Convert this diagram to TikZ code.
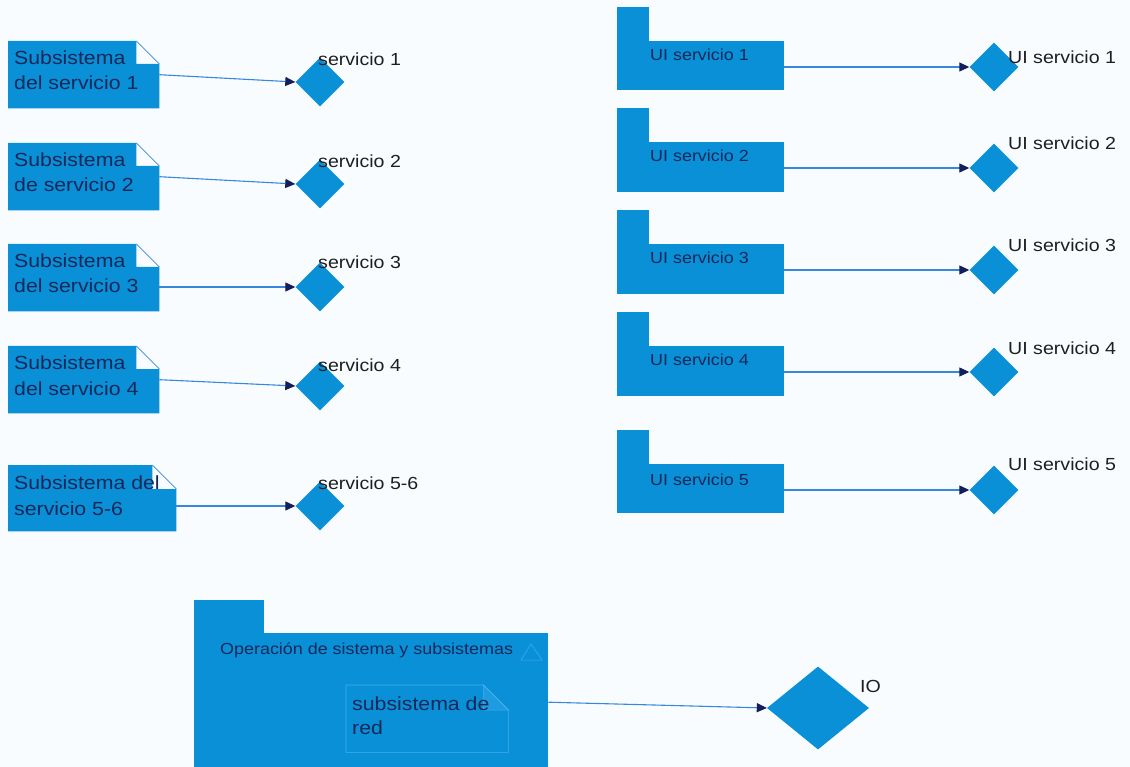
\documentclass[tikz,border=0pt]{standalone}
\usepackage{fontspec}
\setmainfont{Liberation Sans}[FakeStretch=1.12]
\usetikzlibrary{shapes.geometric,arrows.meta}

\definecolor{bg}{RGB}{249,252,255}
\definecolor{umlblue}{RGB}{10,144,214}
\definecolor{flapblue}{RGB}{30,155,225}
\definecolor{edgeblue}{RGB}{55,135,220}
\definecolor{tipnavy}{RGB}{20,30,90}
\definecolor{inktext}{RGB}{20,40,90}
\definecolor{labeltext}{RGB}{30,30,30}
\definecolor{foldline}{RGB}{70,175,240}

\tikzset{
  lbl/.style={anchor=base west, inner sep=0, text=labeltext, font=\fontsize{17.5}{20}\selectfont},
  notetxt/.style={anchor=base west, inner sep=0, text=inktext, font=\fontsize{19}{23}\selectfont},
  pkgtxt/.style={anchor=base west, inner sep=0, text=inktext, font=\fontsize{16}{19}\selectfont},
  port/.style={diamond, fill=umlblue, inner sep=0, minimum width=49pt, minimum height=49pt},
  link/.style={draw=edgeblue, line width=1.1pt, -{Triangle[length=10pt,width=9pt,color=tipnavy]}},
  area/.style={draw=none, inner sep=0, anchor=north west},
}

% note with a folded top-right corner: name, x, y (top), width, height, fold
\newcommand{\umlnote}[6]{%
  \node[area, minimum width=#4pt, minimum height=#5pt] (#1) at (#2,#3) {};
  \fill[umlblue] (#1.north west) -- ([xshift=-#6pt]#1.north east)
    -- ([xshift=-#6pt,yshift=-#6pt]#1.north east) -- ([yshift=-#6pt]#1.north east)
    -- (#1.south east) -- (#1.south west) -- cycle;
  \draw[edgeblue, line width=0.7pt] ([xshift=-#6pt]#1.north east) -- ([yshift=-#6pt]#1.north east);
}

% package: name, x, y (body top), width, height, tab width, tab height
\newcommand{\umlpkg}[7]{%
  \node[area, fill=umlblue, minimum width=#4pt, minimum height=#5pt] (#1) at (#2,#3) {};
  \fill[umlblue] (#1.north west) rectangle ([xshift=#6pt,yshift=#7pt]#1.north west);
}

\begin{document}
\begin{tikzpicture}[x=1pt,y=-1pt]
  \fill[bg] (0,0) rectangle (1130,767);
  \useasboundingbox (0,0) rectangle (1130,767);

  % ---- subsystem notes and their services ----
  \umlnote{n1}{8}{41}{151}{67}{23}
  \umlnote{n2}{8}{143}{151}{67}{23}
  \umlnote{n3}{8}{244}{151}{67}{23}
  \umlnote{n4}{8}{346}{151}{67}{23}
  \umlnote{n5}{8}{465}{168}{66}{24}

  \node[notetxt] (n1a) at (14,65) {Subsistema};
  \node[notetxt] (n1b) at (14,90) {del servicio 1};
  \node[notetxt] (n2a) at (14,167) {Subsistema};
  \node[notetxt] (n2b) at (14,192) {de servicio 2};
  \node[notetxt] (n3a) at (14,268) {Subsistema};
  \node[notetxt] (n3b) at (14,293) {del servicio 3};
  \node[notetxt] (n4a) at (14,370) {Subsistema};
  \node[notetxt] (n4b) at (14,395) {del servicio 4};
  \node[notetxt] (n5a) at (14,489) {Subsistema del};
  \node[notetxt] (n5b) at (14,515) {servicio 5-6};

  \node[port] (d1) at (320,82) {};
  \node[port] (d2) at (320,184) {};
  \node[port] (d3) at (320,287) {};
  \node[port] (d4) at (320,386) {};
  \node[port] (d5) at (320,506) {};

  \node[lbl] (l1) at (318,66) {servicio 1};
  \node[lbl] (l2) at (318,168) {servicio 2};
  \node[lbl] (l3) at (318,269) {servicio 3};
  \node[lbl] (l4) at (318,371) {servicio 4};
  \node[lbl] (l5) at (318,489) {servicio 5-6};

  \draw[link] (n1.east) -- (d1.west);
  \draw[link] (n2.east) -- (d2.west);
  \draw[link] (n3.east |- d3.west) -- (d3.west);
  \draw[link] (n4.east) -- (d4.west);
  \draw[link] (n5.east |- d5.west) -- (d5.west);

  % ---- UI packages and their interfaces ----
  \umlpkg{p1}{617}{41}{167}{49}{32}{34}
  \umlpkg{p2}{617}{142}{167}{50}{32}{34}
  \umlpkg{p3}{617}{244}{167}{50}{32}{34}
  \umlpkg{p4}{617}{346}{167}{50}{32}{34}
  \umlpkg{p5}{617}{464}{167}{49}{32}{34}

  \node[pkgtxt] (p1t) at (650,61) {UI servicio 1};
  \node[pkgtxt] (p2t) at (650,162) {UI servicio 2};
  \node[pkgtxt] (p3t) at (650,264) {UI servicio 3};
  \node[pkgtxt] (p4t) at (650,366) {UI servicio 4};
  \node[pkgtxt] (p5t) at (650,485) {UI servicio 5};

  \node[port] (r1) at (994,67) {};
  \node[port] (r2) at (994,168) {};
  \node[port] (r3) at (994,270) {};
  \node[port] (r4) at (994,372) {};
  \node[port] (r5) at (994,490) {};

  \node[lbl] (u1) at (1008,64) {UI servicio 1};
  \node[lbl] (u2) at (1008,150) {UI servicio 2};
  \node[lbl] (u3) at (1008,252) {UI servicio 3};
  \node[lbl] (u4) at (1008,354) {UI servicio 4};
  \node[lbl] (u5) at (1008,470) {UI servicio 5};

  \draw[link] (p1.east |- r1.west) -- (r1.west);
  \draw[link] (p2.east |- r2.west) -- (r2.west);
  \draw[link] (p3.east |- r3.west) -- (r3.west);
  \draw[link] (p4.east |- r4.west) -- (r4.west);
  \draw[link] (p5.east |- r5.west) -- (r5.west);

  % ---- system operation package with the network subsystem ----
  \umlpkg{op}{194}{633}{354}{134}{70}{33}
  \node[pkgtxt] (opt) at (220,654) {Operación de sistema y subsistemas};
  \draw[foldline, line width=0.5pt]
    (521,660) -- (531,644) -- (542,660) -- cycle;

  \node[area, minimum width=162pt, minimum height=67pt] (net) at (346,685) {};
  \filldraw[fill=flapblue, draw=foldline, line width=0.5pt]
    ([xshift=-25pt]net.north east) -- ([xshift=-25pt,yshift=-25pt]net.north east)
    -- ([yshift=-25pt]net.north east) -- cycle;
  \draw[foldline, line width=0.6pt] (net.north west) -- ([xshift=-25pt]net.north east)
    -- ([yshift=-25pt]net.north east) -- (net.south east) -- (net.south west) -- cycle;
  \node[notetxt] (neta) at (352,710) {subsistema de};
  \node[notetxt] (netb) at (352,734) {red};

  \node[port, minimum width=102pt, minimum height=83pt] (io) at (818,708) {};
  \node[lbl] (iol) at (860,692) {IO};
  \draw[link] ([yshift=-2pt]op.east) -- (io.west);
\end{tikzpicture}
\end{document}
